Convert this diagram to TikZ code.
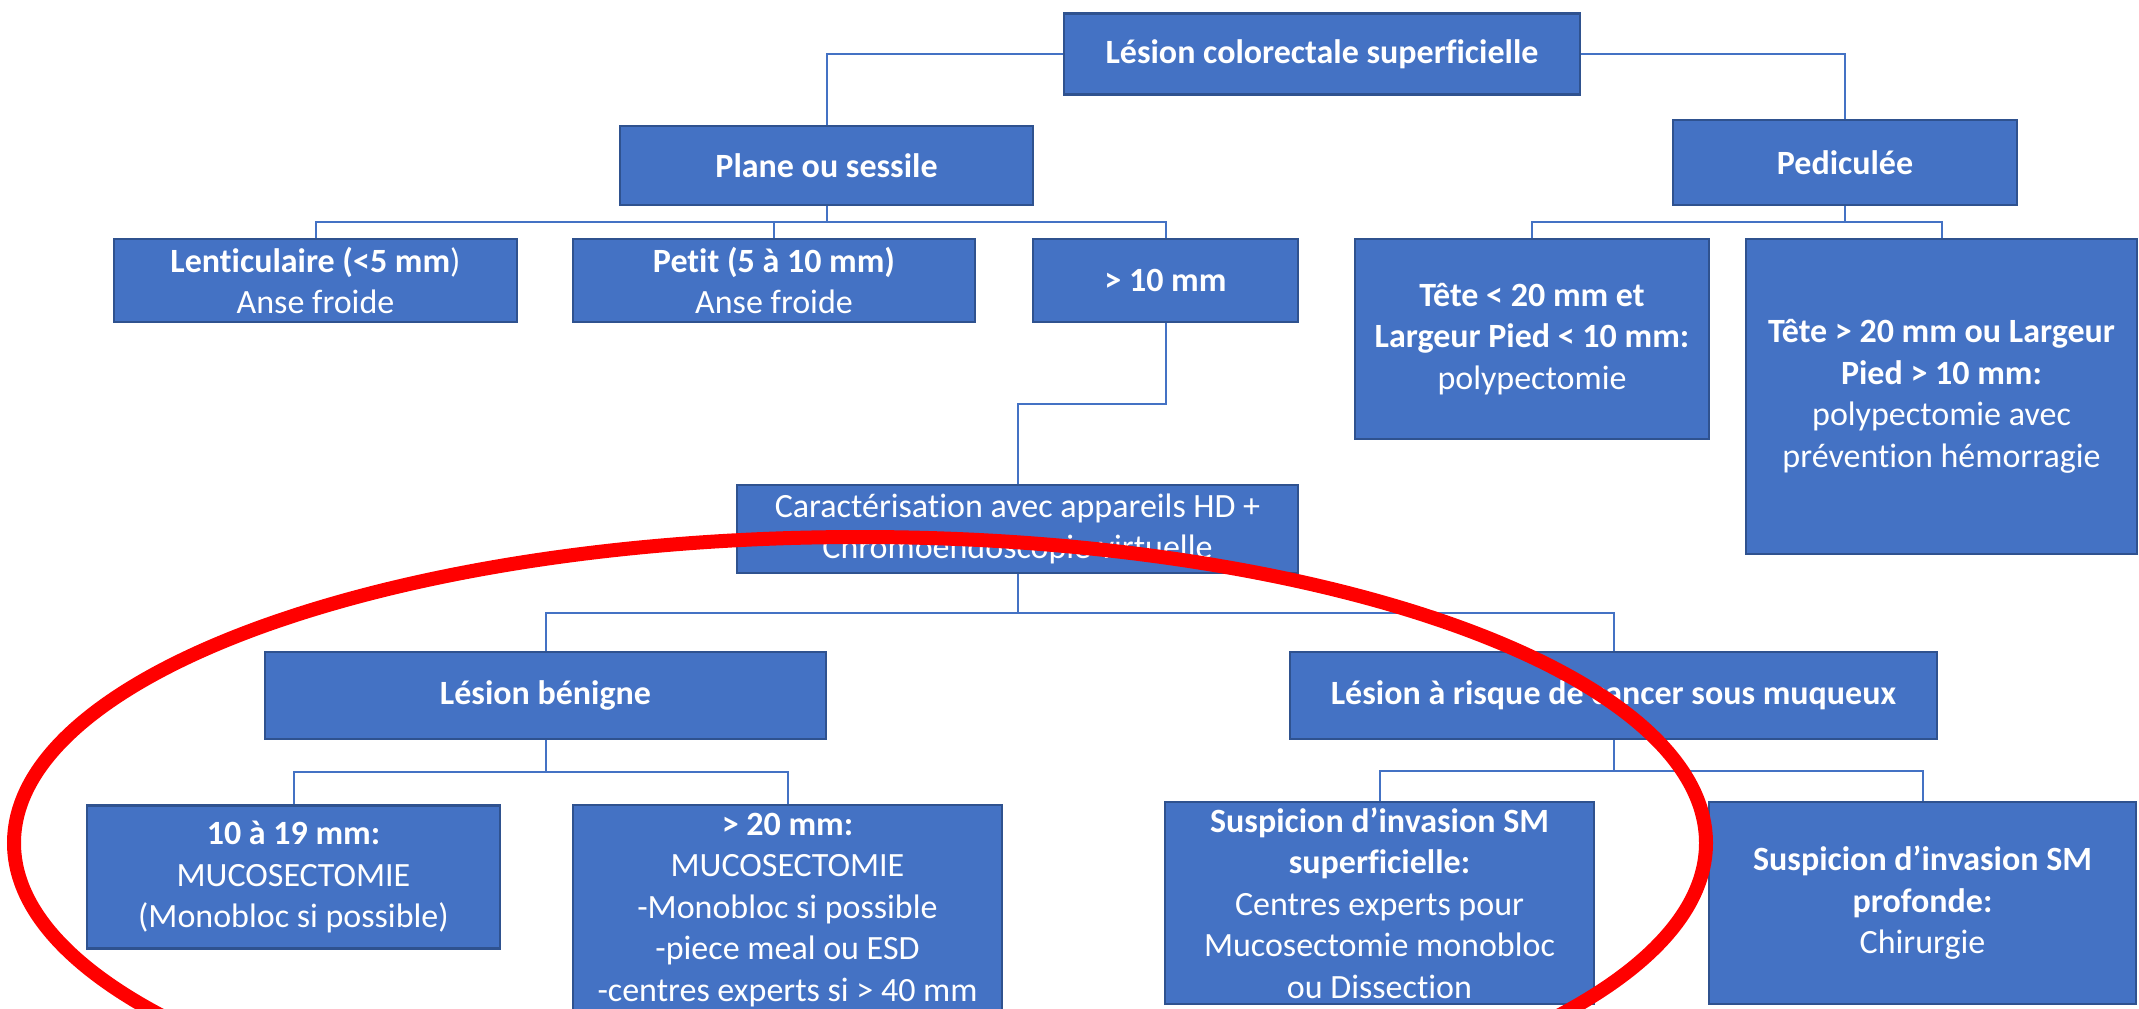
\documentclass[tikz,border=0pt]{standalone}
\usepackage{fontspec}
\setmainfont{Carlito}[Ligatures=NoCommon]
\usetikzlibrary{calc}
\definecolor{boxBlue}{HTML}{4472C4}
\definecolor{borderBlue}{HTML}{2F528F}
\definecolor{lineBlue}{HTML}{4472C4}
\begin{document}
\begin{tikzpicture}
[x=1pt, y=-1pt,
  nodeDecorate/.style={shape=rectangle, fill=boxBlue, draw=borderBlue, line width=2.5pt,
    text=white, align=center, inner sep=0pt, font=\fontsize{34}{41.5}\selectfont},
  lineDecorate/.style={-, draw=lineBlue, line width=2pt,
    to path={|- ($(\tikztostart)!.5!(\tikztotarget)$) -| (\tikztotarget)}},
  sideDecorate/.style={-, draw=lineBlue, line width=2pt, to path={-| (\tikztotarget)}},
  ringDecorate/.style={draw=red, line width=14pt}]
\fill[white] (0,0) rectangle (2139,1009);
\useasboundingbox (0,0) rectangle (2139,1009);
%% boxes
\foreach \nodename/\x/\y/\w/\h/\txt in {
  root/1322/54/516/81/{\textbf{Lésion colorectale superficielle}},
  plane/826.5/165.5/413/79/{\textbf{Plane ou sessile}},
  pedic/1845/162.5/344/85/{\textbf{Pediculée}},
  lent/315.5/280.5/403/83/{\textbf{Lenticulaire (<5 mm})\\Anse froide},
  petit/774/280.5/402/83/{\textbf{Petit (5 à 10 mm)}\\Anse froide},
  large/1165.5/280.5/265/83/{\textbf{> 10 mm}},
  teteA/1532/339/354/200/{\textbf{Tête < 20 mm et}\\\textbf{Largeur Pied < 10 mm:}\\polypectomie},
  teteB/1941.5/396.5/391/315/{\textbf{Tête > 20 mm ou Largeur}\\\textbf{Pied > 10 mm:}\\polypectomie avec\\prévention hémorragie},
  caract/1017.5/529/561/88/{Caractérisation avec appareils HD +\\Chromoendoscopie virtuelle},
  benigne/545.5/695.5/561/87/{\textbf{Lésion bénigne}},
  risque/1613.5/695.5/647/87/{\textbf{Lésion à risque de cancer sous muqueux}},
  small/293.5/877/413/143/{\textbf{10 à 19 mm:}\\MUCOSECTOMIE\\(Monobloc si possible)},
  big/787.5/910/429/210/{\textbf{> 20 mm:}\\MUCOSECTOMIE\\-Monobloc si possible\\-piece meal ou ESD\\-centres experts si > 40 mm},
  smsup/1379.5/903/429/202/{\textbf{Suspicion d’invasion SM}\\\textbf{superficielle:}\\Centres experts pour\\Mucosectomie monobloc\\ou Dissection},
  smdeep/1922.5/903/427/202/{\textbf{Suspicion d’invasion SM}\\\textbf{profonde:}\\Chirurgie}}
{
  \node (\nodename) at (\x,\y) [nodeDecorate, minimum width=\w pt, minimum height=\h pt] {\txt};
}
%% connectors
\path (root.west) edge[sideDecorate] (plane.north)
      (root.east) edge[sideDecorate] (pedic.north);
\path
\foreach \startnode/\endnode in {
  plane/lent, plane/petit, plane/large, pedic/teteA, pedic/teteB,
  large/caract, caract/benigne, caract/risque,
  benigne/small, benigne/big, risque/smsup, risque/smdeep}
{
  (\startnode.south) edge[lineDecorate] (\endnode.north)
};
%% red ring
\draw[ringDecorate] (860,843) ellipse [x radius=846pt, y radius=306pt];
\end{tikzpicture}
\end{document}
